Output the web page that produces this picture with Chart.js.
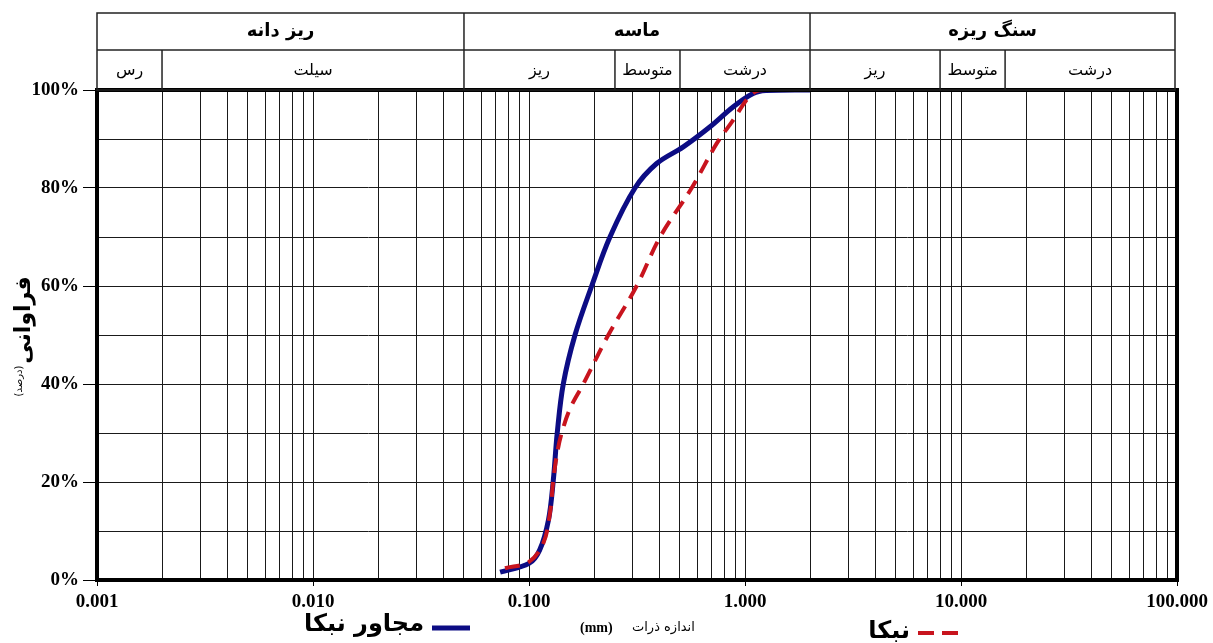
<!DOCTYPE html>
<html>
<head>
<meta charset="utf-8">
<script src="https://cdn.jsdelivr.net/npm/chart.js@4.4.1/dist/chart.umd.min.js"></script>
<style>
html,body{margin:0;padding:0;background:#fff;}
canvas{display:block;}
</style>
</head>
<body>
<canvas id="c" width="1213" height="643"></canvas>
<script>
// ---- Data ----
const seriesNames = ['مجاور نبکا', 'نبکا'];
const blueX = [0.0735, 0.1, 0.112, 0.123, 0.1296, 0.1351, 0.1441, 0.1633, 0.1951, 0.237, 0.3095, 0.39, 0.518, 0.689, 0.883, 1.09, 1.25, 2.0];
const blueY = [1.6, 3.4, 6.1, 12.2, 20.4, 30, 40, 50, 60, 70, 80, 85.0, 88.4, 92.5, 96.6, 99.3, 99.9, 100];
const redX = [0.0774, 0.1, 0.1165, 0.125, 0.1296, 0.135, 0.1417, 0.155, 0.1784, 0.2329, 0.3151, 0.4043, 0.5665, 0.74, 0.883, 1.018, 1.12, 1.25, 2.36];
const redY = [2.4, 3.7, 7.5, 13.6, 20.4, 25.9, 30, 35, 40, 50, 60, 70, 80, 89.1, 93.9, 98.0, 99.7, 100, 100];
const xMin = 0.001, xMax = 100;
const yTicks = [0, 10, 20, 30, 40, 50, 60, 70, 80, 90, 100];
const headerTop = [
  {from: 0.001, to: 0.05, label: 'ریز دانه'},
  {from: 0.05, to: 2, label: 'ماسه'},
  {from: 2, to: 100, label: 'سنگ ریزه'}
];
const headerSub = [
  {from: 0.001, to: 0.002, label: 'رس'},
  {from: 0.002, to: 0.05, label: 'سیلت'},
  {from: 0.05, to: 0.25, label: 'ریز'},
  {from: 0.25, to: 0.5, label: 'متوسط'},
  {from: 0.5, to: 2, label: 'درشت'},
  {from: 2, to: 8, label: 'ریز'},
  {from: 8, to: 16, label: 'متوسط'},
  {from: 16, to: 100, label: 'درشت'}
];
const yTitle = 'فراوانی';
const yTitleSub = '(درصد)';
const xTitle = 'اندازه ذرات';
const xTitleUnit = '(mm)';

const BLUE = '#0c0c84';
const RED = '#c8141e';
const FA = '"DejaVu Sans", sans-serif';
const SERIF = '"Liberation Serif", "Times New Roman", serif';

function isPow10(v){ const l = Math.log10(v); return Math.abs(l - Math.round(l)) < 1e-9; }

const decorPlugin = {
  id: 'decor',
  afterDraw(chart){
    const ctx = chart.ctx, ca = chart.chartArea, xs = chart.scales.x;
    ctx.save();
    // plot border
    ctx.strokeStyle = '#000';
    ctx.lineWidth = 4;
    ctx.strokeRect(ca.left, ca.top, ca.right - ca.left, ca.bottom - ca.top);
    // header table
    const top = 13, mid = 50, bot = ca.top;
    ctx.strokeStyle = '#222';
    ctx.lineWidth = 1.5;
    ctx.strokeRect(ca.left, top, ca.right - ca.left - 2, bot - top);
    ctx.beginPath(); ctx.moveTo(ca.left, mid); ctx.lineTo(ca.right - 2, mid); ctx.stroke();
    ctx.fillStyle = '#000';
    ctx.textAlign = 'center';
    ctx.textBaseline = 'middle';
    ctx.font = 'bold 18px ' + FA;
    headerTop.forEach(h => {
      const a = xs.getPixelForValue(h.from), b = Math.min(xs.getPixelForValue(h.to), ca.right - 2);
      if (h.from !== xMin){ ctx.beginPath(); ctx.moveTo(a, top); ctx.lineTo(a, mid); ctx.stroke(); }
      ctx.fillText(h.label, (a + b) / 2, (top + mid) / 2);
    });
    ctx.font = '16px ' + FA;
    headerSub.forEach(h => {
      const a = xs.getPixelForValue(h.from), b = Math.min(xs.getPixelForValue(h.to), ca.right - 2);
      if (h.from !== xMin){ ctx.beginPath(); ctx.moveTo(a, mid); ctx.lineTo(a, bot); ctx.stroke(); }
      ctx.fillText(h.label, (a + b) / 2, (mid + bot) / 2 + 1);
    });
    // y title (rotated)
    ctx.save();
    ctx.translate(24, 320);
    ctx.rotate(-Math.PI / 2);
    ctx.font = 'bold 22px ' + FA;
    ctx.fillText(yTitle, 0, 0);
    ctx.restore();
    ctx.save();
    ctx.translate(19, 381);
    ctx.rotate(-Math.PI / 2);
    ctx.font = '10px ' + FA;
    ctx.fillText(yTitleSub, 0, 0);
    ctx.restore();
    // x title
    ctx.textAlign = 'left';
    ctx.font = 'bold 14px ' + SERIF;
    ctx.fillText(xTitleUnit, 580, 628);
    ctx.font = '13px ' + FA;
    ctx.fillText(xTitle, 632, 628);
    // legend
    ctx.textAlign = 'right';
    ctx.font = 'bold 24px ' + FA;
    ctx.fillText(seriesNames[0], 424, 625);
    ctx.strokeStyle = BLUE; ctx.lineWidth = 5;
    ctx.beginPath(); ctx.moveTo(432, 628); ctx.lineTo(470, 628); ctx.stroke();
    ctx.fillText(seriesNames[1], 910, 632);
    ctx.strokeStyle = RED; ctx.lineWidth = 4;
    ctx.setLineDash([16, 8]);
    ctx.beginPath(); ctx.moveTo(918, 633); ctx.lineTo(958, 633); ctx.stroke();
    ctx.restore();
  }
};

new Chart(document.getElementById('c'), {
  type: 'line',
  data: {
    datasets: [
      {
        label: seriesNames[1],
        data: redX.map((x, i) => ({x, y: redY[i]})),
        borderColor: RED, borderWidth: 4, borderDash: [15, 9],
        pointRadius: 0, tension: 0.35, fill: false
      },
      {
        label: seriesNames[0],
        data: blueX.map((x, i) => ({x, y: blueY[i]})),
        borderColor: BLUE, borderWidth: 5,
        pointRadius: 0, tension: 0.35, fill: false
      }
    ]
  },
  options: {
    responsive: false,
    animation: false,
    devicePixelRatio: 1,
    layout: {padding: {left: 0, right: 36, top: 90, bottom: 0}},
    plugins: {legend: {display: false}, tooltip: {enabled: false}, title: {display: false}},
    scales: {
      x: {
        type: 'logarithmic', min: xMin, max: xMax,
        afterFit(s){ s.height = 63; },
        afterBuildTicks(s){
          const t = [];
          for (let e = -3; e <= 1; e++) for (let m = 1; m <= 9; m++) t.push({value: +(m * Math.pow(10, e)).toPrecision(6)});
          t.push({value: 100});
          s.ticks = t;
        },
        ticks: {
          autoSkip: false, maxRotation: 0, padding: 5, color: '#000',
          font: {family: SERIF, size: 19, weight: 'bold'},
          callback: v => isPow10(v) ? v.toFixed(3) : ''
        },
        grid: {
          color: '#1a1a1a', lineWidth: 1, tickLength: 6,
          tickColor: c => (c.tick && isPow10(c.tick.value)) ? '#000' : 'rgba(0,0,0,0)'
        },
        border: {color: '#000', width: 4}
      },
      y: {
        min: 0, max: 100,
        afterFit(s){ s.width = 97; },
        afterBuildTicks(s){ s.ticks = yTicks.map(v => ({value: v})); },
        ticks: {
          color: '#000', padding: 4,
          font: {family: SERIF, size: 19, weight: 'bold'},
          callback: v => (v % 20 === 0) ? v + '%' : ''
        },
        grid: {
          color: '#1a1a1a', lineWidth: 1, tickLength: 14,
          tickColor: c => (c.tick && c.tick.value % 20 === 0) ? '#000' : 'rgba(0,0,0,0)'
        },
        border: {color: '#000', width: 4}
      }
    }
  },
  plugins: [decorPlugin]
});
</script>
</body>
</html>
